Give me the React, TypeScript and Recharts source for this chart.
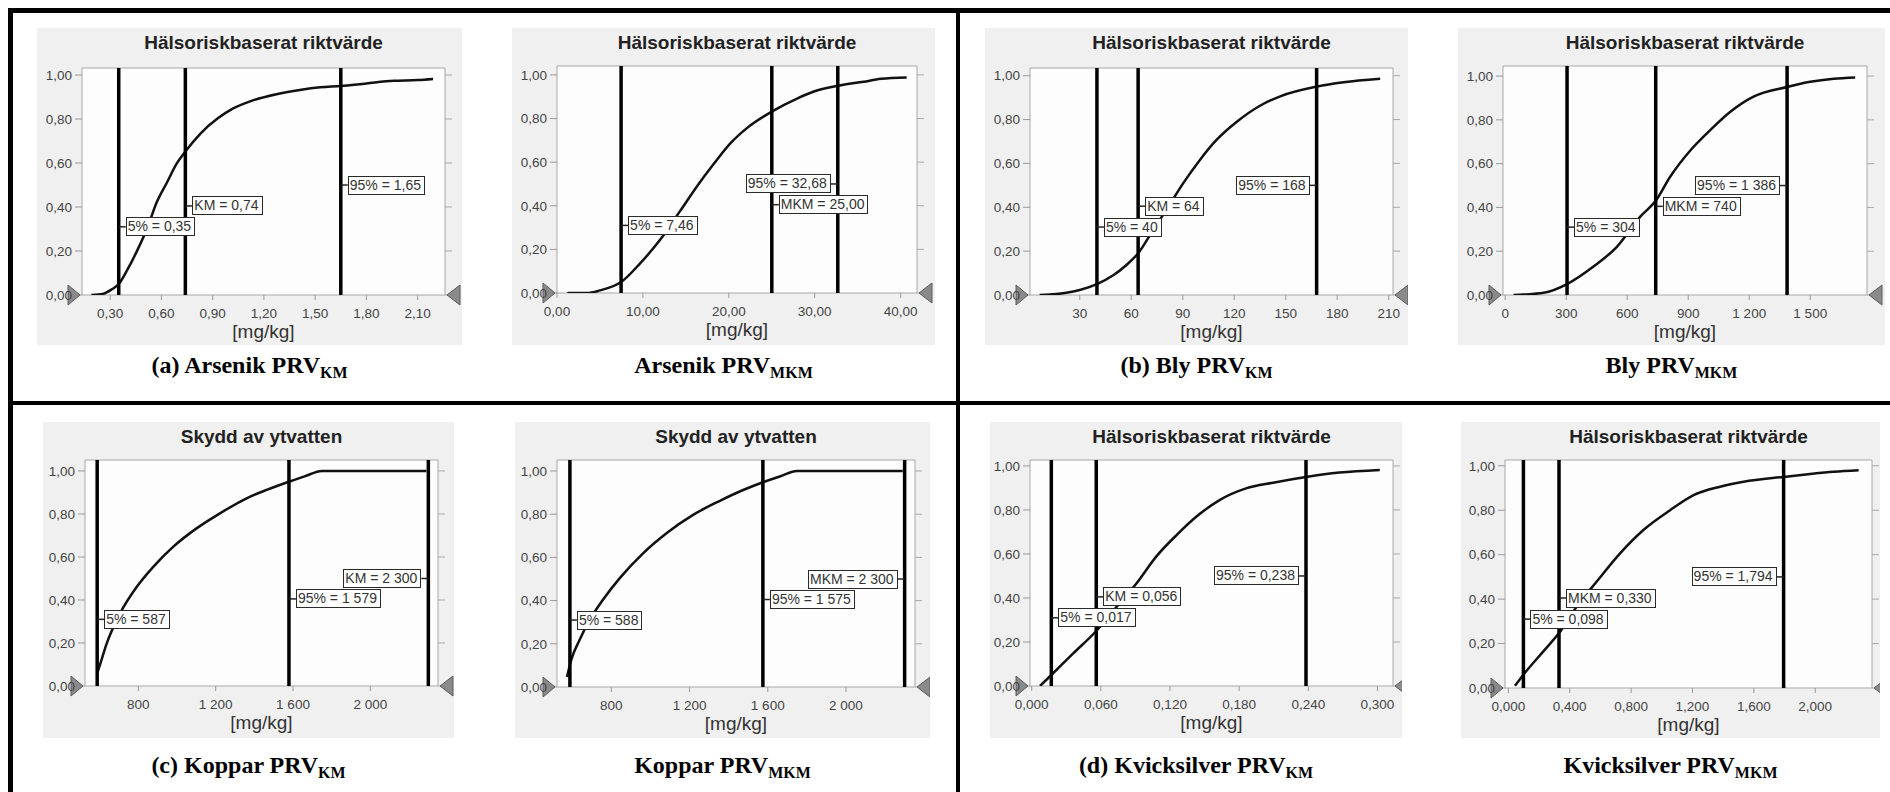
import React from 'react';
import {
  LineChart,
  Line,
  XAxis,
  YAxis,
  ReferenceLine,
  ReferenceDot,
  ReferenceArea
} from 'recharts';

// cumulative probability ticks shared by every panel
const probTicks = [0, 0.2, 0.4, 0.6, 0.8, 1];

const kmNames = ['5%', 'KM', '95%'];
const mkmNames = ['5%', 'MKM', '95%'];
const kopparKmNames = ['5%', '95%', 'KM'];
const kopparMkmNames = ['5%', '95%', 'MKM'];

// Arsenik
const arsenikKmX = [0.19, 0.26, 0.31, 0.35, 0.4, 0.46, 0.52, 0.57, 0.63, 0.69, 0.74, 0.83, 0.93, 1.02, 1.14, 1.28, 1.41, 1.53, 1.65, 1.8, 1.96, 2.1, 2.19];
const arsenikKmY = [0, 0.006, 0.026, 0.05, 0.114, 0.205, 0.31, 0.417, 0.508, 0.598, 0.652, 0.735, 0.803, 0.848, 0.886, 0.914, 0.932, 0.944, 0.95, 0.962, 0.974, 0.977, 0.982];
const arsenikKmLimits = [0.35, 0.74, 1.65];
const arsenikKmTicks = [0.3, 0.6, 0.9, 1.2, 1.5, 1.8, 2.1];

const arsenikMkmX = [1.2, 3.5, 5.0, 7.46, 9.7, 12.0, 14.4, 16.3, 18.3, 20.2, 22.1, 25.0, 28.0, 29.9, 32.68, 35.7, 37.7, 40.7];
const arsenikMkmY = [0, 0, 0.012, 0.05, 0.137, 0.244, 0.38, 0.49, 0.595, 0.687, 0.756, 0.832, 0.893, 0.924, 0.95, 0.969, 0.982, 0.988];
const arsenikMkmLimits = [7.46, 25.0, 32.68];
const arsenikMkmTicks = [0, 10, 20, 30, 40];

// Bly
const blyKmX = [6.6, 12.5, 22.2, 30, 40, 49.5, 57.2, 64, 72.8, 80.6, 90.3, 100, 109.8, 121.5, 135, 146.8, 168, 183.7, 205];
const blyKmY = [0, 0.002, 0.01, 0.023, 0.05, 0.09, 0.137, 0.19, 0.297, 0.39, 0.51, 0.616, 0.708, 0.79, 0.863, 0.906, 0.95, 0.97, 0.986];
const blyKmLimits = [40, 64, 168];
const blyKmTicks = [30, 60, 90, 120, 150, 180, 210];

const blyMkmX = [41, 90, 189, 304, 434, 549, 664, 740, 811, 910, 1008, 1107, 1221, 1386, 1500, 1615, 1721];
const blyMkmY = [0, 0.002, 0.01, 0.05, 0.13, 0.22, 0.358, 0.43, 0.54, 0.66, 0.753, 0.837, 0.906, 0.95, 0.974, 0.988, 0.994];
const blyMkmLimits = [304, 740, 1386];
const blyMkmTicks = [0, 300, 600, 900, 1200, 1500];

// Koppar
const kopparKmX = [587, 602, 636, 705, 791, 877, 981, 1101, 1222, 1360, 1463, 1579, 1660, 1750, 2290];
const kopparKmY = [0.06, 0.1, 0.197, 0.337, 0.46, 0.554, 0.648, 0.733, 0.803, 0.873, 0.912, 0.95, 0.975, 1, 1];
const kopparKmLimits = [587, 1579, 2300];

const kopparMkmX = [573, 595, 638, 689, 757, 843, 962, 1082, 1218, 1355, 1474, 1575, 1665, 1750, 2290];
const kopparMkmY = [0.046, 0.126, 0.219, 0.311, 0.404, 0.504, 0.619, 0.712, 0.797, 0.862, 0.912, 0.948, 0.976, 1, 1];
const kopparMkmLimits = [588, 1575, 2300];
const kopparTicks = [800, 1200, 1600, 2000];

// Kvicksilver
const kvicksilverKmX = [0.0072, 0.017, 0.036, 0.056, 0.0737, 0.091, 0.108, 0.1257, 0.143, 0.163, 0.186, 0.2095, 0.238, 0.267, 0.302];
const kvicksilverKmY = [0, 0.05, 0.148, 0.25, 0.36, 0.467, 0.588, 0.686, 0.77, 0.845, 0.898, 0.924, 0.95, 0.97, 0.982];
const kvicksilverKmLimits = [0.017, 0.056, 0.238];
const kvicksilverKmTicks = [0, 0.06, 0.12, 0.18, 0.24, 0.3];

const kvicksilverMkmX = [0.043, 0.098, 0.228, 0.33, 0.446, 0.576, 0.728, 0.88, 1.054, 1.207, 1.38, 1.533, 1.794, 1.967, 2.12, 2.283];
const kvicksilverMkmY = [0.01, 0.06, 0.165, 0.247, 0.367, 0.479, 0.606, 0.711, 0.8, 0.868, 0.906, 0.928, 0.95, 0.963, 0.973, 0.98];
const kvicksilverMkmLimits = [0.098, 0.33, 1.794];
const kvicksilverMkmTicks = [0, 0.4, 0.8, 1.2, 1.6, 2.0];

const HALSO = 'Hälsoriskbaserat riktvärde';
const YTVATTEN = 'Skydd av ytvatten';

// tag heights (probability) for the left, middle and right limit lines
const tagLevels = [0.31, 0.405, 0.5];

const SANS = '"Liberation Sans", Arial, sans-serif';
const SERIF = '"Liberation Serif", "Times New Roman", serif';

// swedish number format: decimal comma, space as thousands separator
const fmt = (v: number, dec: number) => {
  const [i, d] = Math.abs(v).toFixed(dec).split('.');
  const int = dec === 0 ? i.replace(/\B(?=(\d{3})+(?!\d))/g, ' ') : i;
  return (v < 0 ? '-' : '') + int + (d ? ',' + d : '');
};

type PanelDef = {
  title: string;
  caption: string;
  sub: string;
  xs: number[];
  ys: number[];
  limits: number[];
  names: string[];
  ticks: number[];
  domain: [number, number];
  dec: number;
  yMax: number;
  sides: string;
  box: [number, number, number, number];
  m: [number, number, number, number];
};

const panels: PanelDef[] = [
  { title: HALSO, caption: '(a) Arsenik PRV', sub: 'KM', xs: arsenikKmX, ys: arsenikKmY, limits: arsenikKmLimits, names: kmNames, ticks: arsenikKmTicks, domain: [0.135, 2.26], dec: 2, yMax: 1.032, sides: 'rrr', box: [37, 28, 425, 317], m: [45, 17, 40, 50] },
  { title: HALSO, caption: 'Arsenik PRV', sub: 'MKM', xs: arsenikMkmX, ys: arsenikMkmY, limits: arsenikMkmLimits, names: mkmNames, ticks: arsenikMkmTicks, domain: [0, 41.9], dec: 2, yMax: 1.041, sides: 'rrl', box: [512, 28, 423, 317], m: [45, 18, 38, 52] },
  { title: HALSO, caption: '(b) Bly PRV', sub: 'KM', xs: blyKmX, ys: blyKmY, limits: blyKmLimits, names: kmNames, ticks: blyKmTicks, domain: [1, 212.5], dec: 0, yMax: 1.035, sides: 'rrl', box: [985, 28, 423, 317], m: [45, 15, 40, 50] },
  { title: HALSO, caption: 'Bly PRV', sub: 'MKM', xs: blyMkmX, ys: blyMkmY, limits: blyMkmLimits, names: mkmNames, ticks: blyMkmTicks, domain: [-11, 1779], dec: 0, yMax: 1.046, sides: 'rrl', box: [1458, 28, 427, 317], m: [45, 18, 38, 50] },
  { title: YTVATTEN, caption: '(c) Koppar PRV', sub: 'KM', xs: kopparKmX, ys: kopparKmY, limits: kopparKmLimits, names: kopparKmNames, ticks: kopparTicks, domain: [524, 2350], dec: 0, yMax: 1.051, sides: 'rrl', box: [43, 422, 411, 316], m: [42, 16, 38, 52] },
  { title: YTVATTEN, caption: 'Koppar PRV', sub: 'MKM', xs: kopparMkmX, ys: kopparMkmY, limits: kopparMkmLimits, names: kopparMkmNames, ticks: kopparTicks, domain: [522, 2353], dec: 0, yMax: 1.051, sides: 'rrl', box: [515, 422, 415, 316], m: [42, 15, 38, 51] },
  { title: HALSO, caption: '(d) Kvicksilver PRV', sub: 'KM', xs: kvicksilverKmX, ys: kvicksilverKmY, limits: kvicksilverKmLimits, names: kmNames, ticks: kvicksilverKmTicks, domain: [-0.0015, 0.3135], dec: 3, yMax: 1.027, sides: 'rrl', box: [990, 422, 412, 316], m: [40, 9, 38, 52] },
  { title: HALSO, caption: 'Kvicksilver PRV', sub: 'MKM', xs: kvicksilverMkmX, ys: kvicksilverMkmY, limits: kvicksilverMkmLimits, names: mkmNames, ticks: kvicksilverMkmTicks, domain: [-0.022, 2.37], dec: 3, yMax: 1.026, sides: 'rrl', box: [1461, 422, 419, 316], m: [44, 8, 38, 50] }
];

// boxed value tag hanging off a limit line
const Tag = ({ cx, cy, text, side }: { cx: number; cy: number; text: string; side: string }) => {
  const right = side === 'r';
  const gap = 7;
  const fw = 170;
  return (
    <g>
      <line x1={cx} x2={right ? cx + gap : cx - gap} y1={cy} y2={cy} stroke="#222" strokeWidth={1.5} />
      <foreignObject x={right ? cx + gap : cx - gap - fw} y={cy - 9.5} width={fw} height={19}>
        <div style={{ display: 'flex', justifyContent: right ? 'flex-start' : 'flex-end', height: 19 }}>
          <span
            style={{
              boxSizing: 'border-box',
              height: 19,
              border: '1px solid #2a2a2a',
              background: '#fff',
              fontFamily: SANS,
              fontSize: 14,
              lineHeight: '17px',
              padding: '0 3px 0 1px',
              color: '#333',
              whiteSpace: 'nowrap'
            }}
          >
            {text}
          </span>
        </div>
      </foreignObject>
    </g>
  );
};

// grey slider handles at probability zero on both sides of the plot
const Handle = ({ cx, cy, dir }: { cx: number; cy: number; dir: 'l' | 'r' }) => {
  const pts =
    dir === 'l'
      ? `${cx - 14},${cy - 10} ${cx - 2},${cy} ${cx - 14},${cy + 10}`
      : `${cx + 15},${cy - 10} ${cx + 2},${cy} ${cx + 15},${cy + 10}`;
  return <polygon points={pts} fill="#8a8a8a" stroke="#5a5a5a" strokeWidth={1} />;
};

const Panel = ({ p }: { p: PanelDef }) => {
  const [left, top, w, h] = p.box;
  const [ml, mr, mt, mb] = p.m;
  const rows = p.xs.map((x, i) => ({ x, y: p.ys[i] }));
  const [x0, x1] = p.domain;
  const tickStyle = { fontSize: 13.5, fill: '#444', fontFamily: SANS };
  return (
    <>
      <div style={{ position: 'absolute', left, top, width: w, height: h, background: '#f0f0f0', overflow: 'hidden' }}>
        <div
          style={{
            position: 'absolute',
            left: ml,
            width: w - ml - mr,
            top: 5,
            textAlign: 'center',
            fontFamily: SANS,
            fontWeight: 'bold',
            fontSize: 19,
            lineHeight: '19px',
            color: '#222',
            whiteSpace: 'nowrap'
          }}
        >
          {p.title}
        </div>
        <LineChart
          width={w}
          height={h}
          data={rows}
          margin={{ top: mt, right: Math.max(0, mr - 8), bottom: 0, left: ml - 40 }}
        >
          <XAxis
            dataKey="x"
            type="number"
            domain={p.domain}
            allowDataOverflow
            ticks={p.ticks}
            interval={0}
            tickFormatter={(v: number) => fmt(v, p.dec)}
            height={mb}
            tick={tickStyle}
            tickLine={{ stroke: '#999' }}
            tickSize={5}
            tickMargin={8}
            axisLine={false}
            label={{ value: '[mg/kg]', position: 'insideBottom', offset: mb - 43, fill: '#333', fontSize: 19, fontFamily: SANS }}
          />
          <YAxis
            yAxisId="l"
            type="number"
            domain={[0, p.yMax]}
            allowDataOverflow
            ticks={probTicks}
            interval={0}
            tickFormatter={(v: number) => fmt(v, 2)}
            width={40}
            tick={tickStyle}
            tickLine={{ stroke: '#999' }}
            tickSize={7}
            tickMargin={3}
            axisLine={false}
          />
          <YAxis
            yAxisId="r"
            orientation="right"
            type="number"
            domain={[0, p.yMax]}
            allowDataOverflow
            ticks={probTicks}
            interval={0}
            tickFormatter={() => ''}
            width={8}
            tickLine={{ stroke: '#aaa' }}
            tickSize={7}
            axisLine={false}
          />
          <ReferenceArea
            yAxisId="l"
            x1={x0}
            x2={x1}
            y1={0}
            y2={p.yMax}
            fill="#fdfdfd"
            fillOpacity={1}
            stroke="#a8a8a8"
            strokeWidth={1}
            ifOverflow="visible"
          />
          <Line
            yAxisId="l"
            dataKey="y"
            type="monotone"
            stroke="#111"
            strokeWidth={2.5}
            dot={false}
            isAnimationActive={false}
          />
          {p.limits.map((v) => (
            <ReferenceLine key={'l' + v} yAxisId="l" x={v} stroke="#000" strokeWidth={3.5} />
          ))}
          {p.limits.map((v, i) => (
            <ReferenceDot
              key={'t' + v}
              yAxisId="l"
              x={v}
              y={tagLevels[i]}
              r={0}
              ifOverflow="visible"
              shape={(s: any) => (
                <Tag cx={s.cx} cy={s.cy} side={p.sides[i]} text={`${p.names[i]} = ${fmt(v, p.dec)}`} />
              )}
            />
          ))}
          <ReferenceDot yAxisId="l" x={x0} y={0} r={0} ifOverflow="visible" shape={(s: any) => <Handle cx={s.cx} cy={s.cy} dir="l" />} />
          <ReferenceDot yAxisId="l" x={x1} y={0} r={0} ifOverflow="visible" shape={(s: any) => <Handle cx={s.cx} cy={s.cy} dir="r" />} />
        </LineChart>
      </div>
      <div
        style={{
          position: 'absolute',
          left: left + w / 2 - 220,
          width: 440,
          top: top < 200 ? 354 : 754,
          height: 30,
          textAlign: 'center',
          fontFamily: SERIF,
          fontWeight: 'bold',
          fontSize: 24,
          lineHeight: '23px',
          color: '#000',
          whiteSpace: 'nowrap'
        }}
      >
        {p.caption}
        <span style={{ fontSize: 16, position: 'relative', top: 5 }}>{p.sub}</span>
      </div>
    </>
  );
};

const rule = (l: number, t: number, w: number, h: number) => (
  <div style={{ position: 'absolute', left: l, top: t, width: w, height: h, background: '#000' }} />
);

export default function App() {
  return (
    <div style={{ position: 'absolute', left: 0, top: 0, width: 1890, height: 792, background: '#fff', overflow: 'hidden' }}>
      {rule(8, 8, 1882, 5)}
      {rule(8, 8, 5, 784)}
      {rule(956, 8, 4, 784)}
      {rule(8, 401, 1882, 4)}
      {panels.map((p, i) => (
        <Panel key={i} p={p} />
      ))}
    </div>
  );
}
